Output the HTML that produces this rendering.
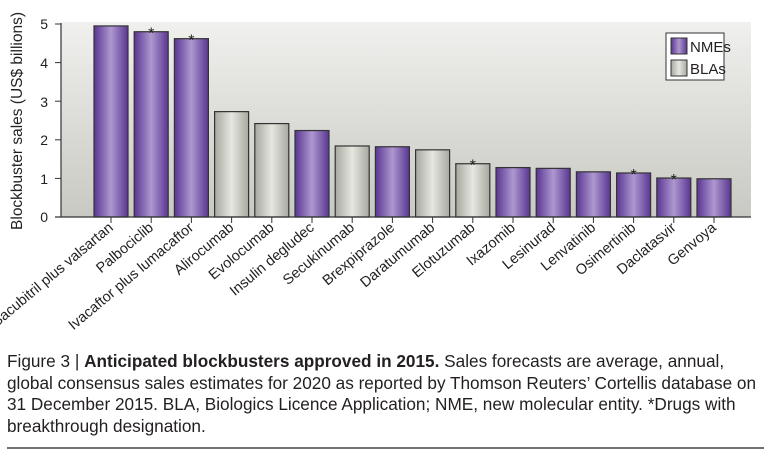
<!DOCTYPE html>
<html><head><meta charset="utf-8"><style>
body{margin:0;background:#fff;width:771px;height:463px;overflow:hidden}
svg text{font-family:"Liberation Sans",sans-serif;fill:#231f20}
.cap{position:absolute;left:7px;top:351px;font-family:"Liberation Sans",sans-serif;font-size:17.2px;line-height:21.5px;color:#231f20;width:780px;white-space:nowrap;letter-spacing:0px}
</style></head><body>
<svg width="771" height="463" style="position:absolute;left:0;top:0">
<defs>
<linearGradient id="bg" x1="0" y1="0" x2="0" y2="1"><stop offset="0" stop-color="#f0f0ee"/><stop offset="1" stop-color="#c8c9c2"/></linearGradient>
<linearGradient id="pu" x1="0" y1="0" x2="1" y2="0"><stop offset="0" stop-color="#5a3592"/><stop offset="0.5" stop-color="#ad98cf"/><stop offset="1" stop-color="#5a3592"/></linearGradient>
<linearGradient id="gr" x1="0" y1="0" x2="1" y2="0"><stop offset="0" stop-color="#a7a89f"/><stop offset="0.5" stop-color="#e6e7e1"/><stop offset="1" stop-color="#a7a89f"/></linearGradient>
</defs>
<rect x="61" y="22" width="690" height="195" fill="url(#bg)"/>
<g id="bars"></g>
<line x1="61" y1="23" x2="61" y2="217" stroke="#333" stroke-width="1.2"/>
<line x1="55" y1="217" x2="751" y2="217" stroke="#333" stroke-width="1.2"/>
<g font-size="14" text-anchor="end">
<text x="48" y="222">0</text><text x="48" y="184">1</text><text x="48" y="145">2</text><text x="48" y="107">3</text><text x="48" y="68">4</text><text x="48" y="29">5</text>
</g>
<g stroke="#333"><line x1="55" y1="217" x2="61" y2="217"/><line x1="55" y1="178.4" x2="61" y2="178.4"/><line x1="55" y1="139.8" x2="61" y2="139.8"/><line x1="55" y1="101.2" x2="61" y2="101.2"/><line x1="55" y1="62.6" x2="61" y2="62.6"/><line x1="55" y1="24" x2="61" y2="24"/></g>
<text transform="translate(22,121) rotate(-90)" font-size="15.5" text-anchor="middle">Blockbuster sales (US$ billions)</text>
<rect x="666" y="33" width="58" height="47" fill="#fff" stroke="#333"/>
<rect x="671" y="38" width="16" height="16" fill="url(#pu)" stroke="#333"/>
<rect x="671" y="60" width="16" height="16" fill="url(#gr)" stroke="#333"/>
<text x="690" y="52" font-size="15">NMEs</text>
<text x="690" y="74" font-size="15">BLAs</text>
<g id="labels" font-size="14.5" text-anchor="end"></g>
<line x1="7" y1="448" x2="764" y2="448" stroke="#231f20" stroke-width="1.2"/>
</svg>
<div class="cap">Figure 3 | <b>Anticipated blockbusters approved in 2015.</b> Sales forecasts are average, annual,<br>global consensus sales estimates for 2020 as reported by Thomson Reuters’ Cortellis database on<br>31 December 2015. BLA, Biologics Licence Application; NME, new molecular entity. *Drugs with<br>breakthrough designation.</div>
<script>
var d=[["Sacubitril plus valsartan",4.95,1,0],["Palbociclib",4.8,1,1],["Ivacaftor plus lumacaftor",4.62,1,1],["Alirocumab",2.73,0,0],["Evolocumab",2.42,0,0],["Insulin degludec",2.24,1,0],["Secukinumab",1.84,0,0],["Brexpiprazole",1.82,1,0],["Daratumumab",1.74,0,0],["Elotuzumab",1.38,0,1],["Ixazomib",1.28,1,0],["Lesinurad",1.26,1,0],["Lenvatinib",1.17,1,0],["Osimertinib",1.14,1,1],["Daclatasvir",1.01,1,1],["Genvoya",0.99,1,0]];
var b="",l="";
d.forEach(function(e,i){var cx=111+i*40.2,h=e[1]*38.6,y=217-h;
b+='<rect x="'+(cx-17)+'" y="'+y+'" width="34" height="'+h+'" fill="url(#'+(e[2]?'pu':'gr')+')" stroke="#333" stroke-width="1.2"/>';
if(e[3])b+='<text x="'+cx+'" y="'+(y+7)+'" font-size="16" text-anchor="middle">*</text>';
b+='<line x1="'+cx+'" y1="217" x2="'+cx+'" y2="223" stroke="#333"/>';
l+='<text transform="translate('+(cx+3)+',229) rotate(-40)">'+e[0]+'</text>';});
document.getElementById("bars").innerHTML=b;document.getElementById("labels").innerHTML=l;
</script>
</body></html>
